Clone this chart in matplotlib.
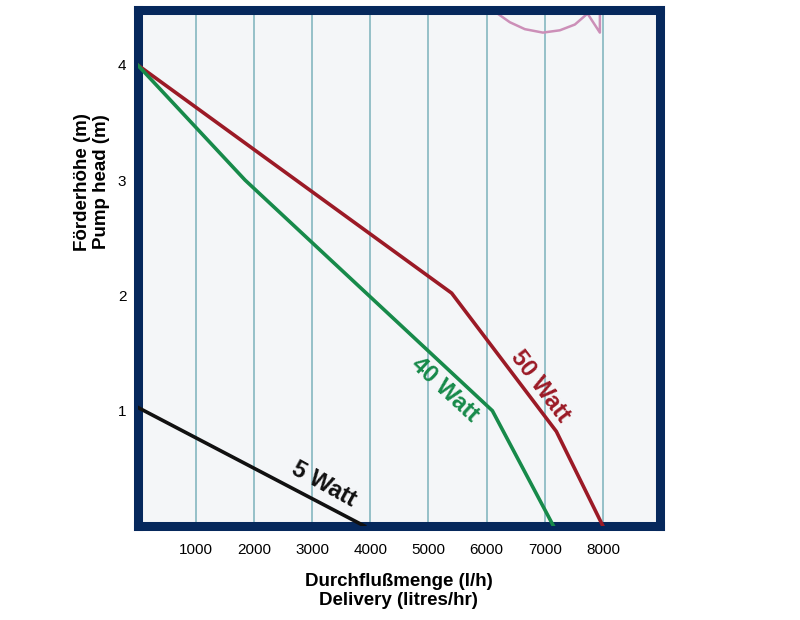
import matplotlib.pyplot as plt

plt.rcParams['font.family'] = ['Liberation Sans', 'DejaVu Sans']

# Kennlinien (Durchfluss l/h, Förderhöhe m)
q50 = [0, 5400, 7200, 8000]
h50 = [4.0, 2.02, 0.82, 0.0]
q40 = [0, 1850, 6100, 7150]
h40 = [4.0, 3.0, 1.0, 0.0]
q5 = [0, 3900]
h5 = [1.03, 0.0]

# pinke Zierlinie oben
deko_x = [6175, 6400, 6658, 6968, 7260, 7518, 7724]
deko_y = [4.45, 4.37, 4.31, 4.28, 4.30, 4.35, 4.44]
schwanz_x = [7690, 7948, 7948]
schwanz_y = [4.48, 4.28, 4.48]

xticks = [1000, 2000, 3000, 4000, 5000, 6000, 7000, 8000]
yticks = [1, 2, 3, 4]

fig = plt.figure(figsize=(8, 6.2), dpi=100)
ax = fig.add_axes([0.1719, 0.1516, 0.653, 0.833])
ax.set_facecolor('#f4f6f8')

for x in xticks:
    ax.axvline(x, color='#8dbcc4', lw=1.3, zorder=1)

ax.plot(deko_x, deko_y, color='#cc8fb8', lw=1.8, zorder=2)
ax.plot(schwanz_x, schwanz_y, color='#cc8fb8', lw=1.8, zorder=2)

ax.plot(q50, h50, color='#9b1a26', lw=2.6, zorder=3)
ax.plot(q40, h40, color='#178a4a', lw=2.6, zorder=3)
ax.plot(q5, h5, color='#111111', lw=2.6, zorder=3)

ax.text(6930, 1.21, '50 Watt', color='#9b1a26', fontsize=17, fontweight='bold',
        rotation=-53, ha='center', va='center')
ax.text(5282, 1.18, '40 Watt', color='#178a4a', fontsize=17, fontweight='bold',
        rotation=-43, ha='center', va='center')
ax.text(3200, 0.36, '5 Watt', color='#111111', fontsize=17, fontweight='bold',
        rotation=-29, ha='center', va='center')

ax.set_xlim(0, 8980)
ax.set_ylim(0, 4.48)
ax.set_xticks(xticks)
ax.set_yticks(yticks)
ax.tick_params(length=0, labelsize=11)
ax.tick_params(axis='x', pad=12)
ax.tick_params(axis='y', pad=8)

for s in ax.spines.values():
    s.set_color('#06285c')
    s.set_linewidth(6.5)

fig.text(0.115, 1 - 182 / 620, 'Förderhöhe (m)\nPump head (m)', rotation=90,
         fontsize=13.5, fontweight='bold', ha='center', va='center', linespacing=1.1)
fig.text(0.4985, 1 - 591 / 620, 'Durchflußmenge (l/h)\nDelivery (litres/hr)',
         fontsize=13.5, fontweight='bold', ha='center', va='center', linespacing=1.15)

fig.savefig('out.png', dpi=100)
